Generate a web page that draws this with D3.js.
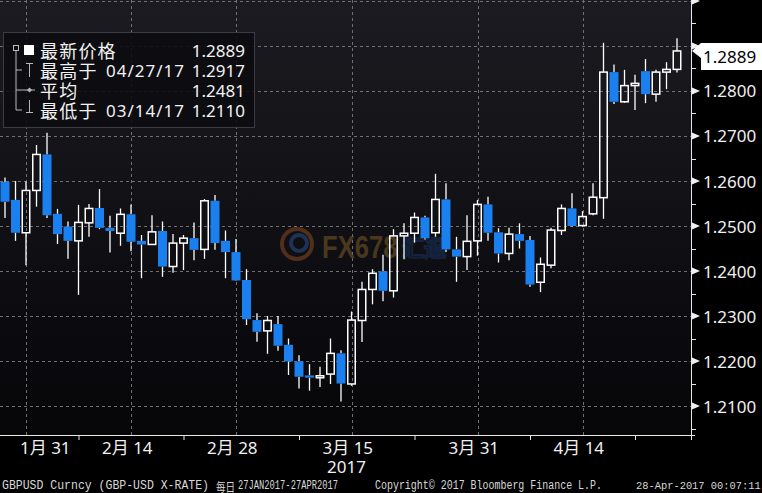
<!DOCTYPE html>
<html><head><meta charset="utf-8">
<script src="https://cdn.jsdelivr.net/npm/d3@7"></script>
<style>html,body{margin:0;padding:0;background:#000;} svg{display:block}</style>
</head><body><svg id="c" width="762" height="493"></svg>
<script>
// ---------- DATA ----------
const dates = [
"2017-01-27","2017-01-30","2017-01-31",
"2017-02-01","2017-02-02","2017-02-03","2017-02-06","2017-02-07","2017-02-08","2017-02-09","2017-02-10",
"2017-02-13","2017-02-14","2017-02-15","2017-02-16","2017-02-17","2017-02-20","2017-02-21","2017-02-22",
"2017-02-23","2017-02-24","2017-02-27","2017-02-28",
"2017-03-01","2017-03-02","2017-03-03","2017-03-06","2017-03-07","2017-03-08","2017-03-09","2017-03-10",
"2017-03-13","2017-03-14","2017-03-15","2017-03-16","2017-03-17","2017-03-20","2017-03-21","2017-03-22",
"2017-03-23","2017-03-24","2017-03-27","2017-03-28","2017-03-29","2017-03-30","2017-03-31",
"2017-04-03","2017-04-04","2017-04-05","2017-04-06","2017-04-07","2017-04-10","2017-04-11","2017-04-12",
"2017-04-13","2017-04-14","2017-04-17","2017-04-18","2017-04-19","2017-04-20","2017-04-21","2017-04-24",
"2017-04-25","2017-04-26","2017-04-27"];
const opens = [1.2598,1.2558,1.2485,1.2579,1.2659,1.2527,1.2499,1.2467,1.2507,1.2540,1.2496,1.2484,1.2526,
1.2467,1.2459,1.2489,1.2410,1.2462,1.2473,1.2448,1.2556,1.2467,1.2442,1.2380,1.2291,1.2267,1.2282,1.2236,
1.2199,1.2168,1.2164,1.2171,1.2217,1.2149,1.2290,1.2359,1.2399,1.2356,1.2478,1.2484,1.2519,1.2485,1.2559,
1.2448,1.2432,1.2467,1.2548,1.2486,1.2439,1.2482,1.2469,1.2375,1.2413,1.2490,1.2539,1.2501,1.2527,1.2563,
1.2842,1.2776,1.2812,1.2844,1.2793,1.2842,1.2848];
const highs = [1.2608,1.2600,1.2599,1.2680,1.2707,1.2538,1.2510,1.2547,1.2549,1.2582,1.2523,1.2539,1.2548,
1.2480,1.2524,1.2510,1.2482,1.2480,1.2508,1.2560,1.2569,1.2490,1.2471,1.2404,1.2306,1.2300,1.2300,1.2250,
1.2213,1.2193,1.2187,1.2250,1.2224,1.2310,1.2376,1.2404,1.2436,1.2493,1.2506,1.2530,1.2523,1.2616,1.2595,
1.2476,1.2524,1.2558,1.2565,1.2495,1.2496,1.2506,1.2478,1.2430,1.2496,1.2548,1.2573,1.2533,1.2595,1.2907,
1.2859,1.2847,1.2836,1.2871,1.2847,1.2864,1.2917];
const lows = [1.2518,1.2467,1.2413,1.2543,1.2518,1.2460,1.2427,1.2347,1.2476,1.2493,1.2441,1.2456,1.2444,
1.2384,1.2458,1.2387,1.2396,1.2402,1.2424,1.2427,1.2447,1.2384,1.2378,1.2280,1.2243,1.2216,1.2223,1.2169,
1.2139,1.2134,1.2142,1.2149,1.2110,1.2145,1.2242,1.2326,1.2333,1.2341,1.2426,1.2463,1.2470,1.2476,1.2442,
1.2376,1.2402,1.2434,1.2467,1.2419,1.2424,1.2450,1.2365,1.2353,1.2406,1.2480,1.2499,1.2499,1.2524,1.2516,
1.2771,1.2774,1.2758,1.2773,1.2776,1.2804,1.2841];
const closes = [1.2554,1.2485,1.2579,1.2659,1.2524,1.2482,1.2467,1.2508,1.2539,1.2496,1.2489,1.2526,1.2465,
1.2459,1.2487,1.2410,1.2462,1.2473,1.2447,1.2556,1.2462,1.2442,1.2379,1.2293,1.2265,1.2290,1.2234,1.2199,
1.2165,1.2163,1.2166,1.2217,1.2150,1.2291,1.2359,1.2395,1.2356,1.2478,1.2484,1.2519,1.2473,1.2559,1.2448,
1.2432,1.2466,1.2548,1.2485,1.2439,1.2482,1.2467,1.2370,1.2415,1.2491,1.2539,1.2500,1.2521,1.2564,1.2842,
1.2776,1.2812,1.2817,1.2793,1.2842,1.2848,1.2889];

const yMajorTicks = [1.21,1.22,1.23,1.24,1.25,1.26,1.27,1.28,1.29,1.30];
const yTickLabels = ["1.2100","1.2200","1.2300","1.2400","1.2500","1.2600","1.2700","1.2800"];
const yMinorTicks = [1.205,1.215,1.225,1.235,1.245,1.255,1.265,1.275,1.285,1.295];
const xLabelDates = ["2017-01-31","2017-02-14","2017-02-28","2017-03-15","2017-03-31","2017-04-14"];
const xLabelTexts = ["1月 31","2月 14","2月 28","3月 15","3月 31","4月 14"];
const xMinorTickDates = ["2017-02-07","2017-02-21","2017-03-08","2017-03-23","2017-04-07","2017-04-21"];
const yearLabel = "2017";
const legendLabels = ["最新价格","最高于","平均","最低于"];
const legendDates = ["","04/27/17","","03/14/17"];
const legendValues = ["1.2889","1.2917","1.2481","1.2110"];
const lastPrice = 1.2889;
const lastPriceLabel = "1.2889";
const footerParts = ["GBPUSD Curncy (GBP-USD X-RATE)","每日","27JAN2017-27APR2017",
  "Copyright© 2017 Bloomberg Finance L.P.","28-Apr-2017 00:07:11"];

// ---------- LAYOUT ----------
const W = 762, H = 493;
const plotR = 691, plotB = 435;
const svg = d3.select("#c");
const data = dates.map((d,i)=>({d, o:opens[i], h:highs[i], l:lows[i], c:closes[i]}));

const x = d3.scalePoint().domain(dates).range([5, 677]);
const y = d3.scaleLinear().domain([1.20356, 1.30022]).range([plotB, 0]);

const defs = svg.append("defs");
const grad = defs.append("linearGradient").attr("id","bg").attr("x1",0).attr("y1",0).attr("x2",0).attr("y2",1);
grad.append("stop").attr("offset","0%").attr("stop-color","#1b1b21");
grad.append("stop").attr("offset","100%").attr("stop-color","#060609");
defs.append("clipPath").attr("id","clip").append("rect").attr("x",0).attr("y",0).attr("width",plotR).attr("height",plotB);

svg.append("rect").attr("width",W).attr("height",H).attr("fill","#000");
svg.append("rect").attr("x",0).attr("y",0).attr("width",plotR).attr("height",plotB).attr("fill","url(#bg)");

const plot = svg.append("g").attr("clip-path","url(#clip)");

// gridlines
plot.selectAll("line.hg").data(yMajorTicks).join("line")
  .attr("x1",0).attr("x2",plotR).attr("y1",d=>Math.round(y(d))+0.5).attr("y2",d=>Math.round(y(d))+0.5)
  .attr("stroke","#707070").attr("stroke-width",1).attr("stroke-dasharray","3,3");
plot.selectAll("line.vg").data(xLabelDates).join("line")
  .attr("x1",d=>Math.round(x(d))+0.5).attr("x2",d=>Math.round(x(d))+0.5).attr("y1",0).attr("y2",plotB)
  .attr("stroke","#707070").attr("stroke-width",1).attr("stroke-dasharray","3,3");

// watermark
const wm = plot.append("g").attr("opacity",0.55);
const lc = {cx: 297, cy: 244};
wm.append("circle").attr("cx",lc.cx).attr("cy",lc.cy).attr("r",15).attr("fill","none").attr("stroke","#8a4a22").attr("stroke-width",4);
wm.append("circle").attr("cx",lc.cx+2).attr("cy",lc.cy-1).attr("r",8).attr("fill","none").attr("stroke","#2a4f8a").attr("stroke-width",4);
wm.append("text").attr("transform","translate(322,258) scale(0.8,1)").text("FX678")
  .attr("font-family","Liberation Sans, Arial, sans-serif").attr("font-weight","bold").attr("font-size",32)
  .attr("fill","#7a5a26");
wm.append("text").attr("x",402).attr("y",256).text("汇通")
  .attr("font-family","Noto Sans CJK SC").attr("font-weight","bold").attr("font-size",22)
  .attr("fill","none").attr("stroke","#1f4f96").attr("stroke-width",2).attr("opacity",0.6);

// candles
const bw = 9;
const cg = plot.append("g");
const cand = cg.selectAll("g.c").data(data).join("g");
cand.append("line")
  .attr("x1",d=>x(d.d)).attr("x2",d=>x(d.d))
  .attr("y1",d=>y(d.h)).attr("y2",d=>y(Math.max(d.o,d.c)))
  .attr("stroke","#fff").attr("stroke-width",1.3);
cand.append("line")
  .attr("x1",d=>x(d.d)).attr("x2",d=>x(d.d))
  .attr("y1",d=>y(Math.min(d.o,d.c))).attr("y2",d=>y(d.l))
  .attr("stroke","#fff").attr("stroke-width",1.3);
cand.append("rect")
  .attr("x",d=> d.c>=d.o ? x(d.d)-bw/2+0.75 : x(d.d)-bw/2)
  .attr("width",d=> d.c>=d.o ? bw-1.5 : bw)
  .attr("y",d=>{const t=y(Math.max(d.o,d.c)), b=y(Math.min(d.o,d.c)); return (b-t<2)? (t+b)/2-1 : t;})
  .attr("height",d=>{const t=y(Math.max(d.o,d.c)), b=y(Math.min(d.o,d.c)); return Math.max(2,b-t);})
  .attr("fill",d=> d.c>=d.o ? "none" : "#1a80f0")
  .attr("stroke",d=> d.c>=d.o ? "#fff" : "none")
  .attr("stroke-width",1.5);

// legend
const lg = svg.append("g");
lg.append("rect").attr("x",3.5).attr("y",32.5).attr("width",251).attr("height",95)
  .attr("fill","#0b0b10").attr("fill-opacity",0.88).attr("stroke","#3c3c44").attr("stroke-width",1);
const rowY = [50,70,90,110];
const gray = "#b8b8b8";
lg.append("rect").attr("x",13.5).attr("y",45.5).attr("width",5).attr("height",5).attr("fill","none").attr("stroke",gray);
lg.append("rect").attr("x",24).attr("y",45).attr("width",10).attr("height",10).attr("fill","#fff");
lg.append("line").attr("x1",16).attr("x2",16).attr("y1",51).attr("y2",rowY[3]).attr("stroke",gray);
[1,2,3].forEach(k=>{
  lg.append("line").attr("x1",16).attr("x2",22).attr("y1",rowY[k]).attr("y2",rowY[k]).attr("stroke",gray);
});
lg.append("line").attr("x1",26).attr("x2",33).attr("y1",63.5).attr("y2",63.5).attr("stroke",gray);
lg.append("line").attr("x1",29.5).attr("x2",29.5).attr("y1",63).attr("y2",77).attr("stroke",gray);
lg.append("line").attr("x1",22).attr("x2",35).attr("y1",90).attr("y2",90).attr("stroke",gray);
lg.append("path").attr("d","M29.5,87.5 L32,90 L29.5,92.5 L27,90 Z").attr("fill",gray);
lg.append("line").attr("x1",29.5).attr("x2",29.5).attr("y1",100).attr("y2",112).attr("stroke",gray);
lg.append("line").attr("x1",26).attr("x2",33).attr("y1",112.5).attr("y2",112.5).attr("stroke",gray);

legendLabels.forEach((t,k)=>{
  lg.append("text").attr("x",40).attr("y",rowY[k]).attr("dominant-baseline","central")
    .attr("font-family","Noto Sans CJK SC").attr("font-size",18).attr("letter-spacing",1.2)
    .attr("fill","#f2f2f2").text(t);
  if (legendDates[k]) {
    lg.append("text").attr("x",106).attr("y",rowY[k]).attr("dominant-baseline","central")
      .attr("font-family","Noto Sans").attr("font-size",17).attr("textLength",78).attr("lengthAdjust","spacing")
      .attr("fill","#f2f2f2").text(legendDates[k]);
  }
  lg.append("text").attr("x",245).attr("y",rowY[k]).attr("dominant-baseline","central").attr("text-anchor","end")
    .attr("font-family","Noto Sans").attr("font-size",17).attr("fill","#f2f2f2").text(legendValues[k]);
});

// right axis
const ax = svg.append("g");
ax.append("line").attr("x1",plotR+0.5).attr("x2",plotR+0.5).attr("y1",0).attr("y2",440).attr("stroke","#e8e8e8").attr("stroke-width",1);
ax.selectAll("line.mt").data(yMinorTicks).join("line")
  .attr("x1",plotR).attr("x2",plotR+5).attr("y1",d=>Math.round(y(d))+0.5).attr("y2",d=>Math.round(y(d))+0.5)
  .attr("stroke","#e8e8e8");
ax.selectAll("path.tri").data(yMajorTicks).join("path")
  .attr("d",d=>{const yy=y(d); return `M${plotR+1},${yy-3.5} L${plotR+9},${yy} L${plotR+1},${yy+3.5} Z`;})
  .attr("fill","#f0f0f0");
ax.selectAll("text.yl").data(yTickLabels).join("text")
  .attr("x",703).attr("y",(d,i)=>y(yMajorTicks[i])).attr("dominant-baseline","central")
  .attr("font-family","Noto Sans").attr("font-size",17).attr("fill","#f0f0f0").text(d=>d);

// last price tag
const ly = y(lastPrice);
svg.append("path").attr("d",`M${plotR+1},${ly} L${plotR+10},${ly-8} L${W},${ly-8} L${W},${ly+19} L${plotR+10},${ly+19} L${plotR+10},${ly+7} Z`)
  .attr("fill","#fff");
svg.append("text").attr("x",703).attr("y",ly+6).attr("dominant-baseline","central")
  .attr("font-family","Noto Sans").attr("font-size",17).attr("fill","#000").text(lastPriceLabel);

// bottom axis
const bx = svg.append("g").attr("transform",`translate(0,${plotB})`);
bx.append("line").attr("x1",0).attr("x2",plotR+4).attr("y1",0.5).attr("y2",0.5).attr("stroke","#e8e8e8");
bx.call(g=>{
  const a = d3.axisBottom(x).tickValues(xMinorTickDates).tickSize(5).tickSizeOuter(0).tickFormat("");
  const gg = g.append("g").call(a);
  gg.select(".domain").remove();
  gg.selectAll(".tick line").attr("stroke","#e8e8e8");
});
svg.selectAll("text.xl").data(xLabelDates).join("text")
  .attr("x",d=>Math.max(20, x(d)-29)).attr("y",447).attr("dominant-baseline","central")
  .attr("font-family","Noto Sans, Noto Sans CJK SC").attr("font-size",17).attr("fill","#f0f0f0")
  .text((d,i)=>xLabelTexts[i]);
svg.append("text").attr("x",x("2017-03-15")-5).attr("y",466).attr("text-anchor","middle").attr("dominant-baseline","central")
  .attr("font-family","Noto Sans").attr("font-size",17).attr("fill","#f0f0f0").text(yearLabel);

// footer
const fy = 486;
const fstyle = s=>s.attr("y",fy).attr("dominant-baseline","central").attr("font-size",12).attr("fill","#d8d8d8").attr("lengthAdjust","spacingAndGlyphs");
fstyle(svg.append("text").attr("x",2).attr("textLength",207).attr("font-family","Liberation Mono, monospace").text(footerParts[0]));
fstyle(svg.append("text").attr("x",216).attr("textLength",19).attr("font-family","Noto Sans CJK SC").attr("font-size",11).text(footerParts[1]));
fstyle(svg.append("text").attr("x",238).attr("textLength",100).attr("font-family","Liberation Mono, monospace").text(footerParts[2]));
fstyle(svg.append("text").attr("x",375).attr("textLength",227).attr("font-family","Liberation Mono, monospace").text(footerParts[3]));
svg.append("text").attr("x",636).attr("y",fy).attr("dominant-baseline","central")
  .attr("font-family","Liberation Mono, monospace").attr("font-size",10.4).attr("fill","#d8d8d8").text(footerParts[4]);
</script></body></html>
